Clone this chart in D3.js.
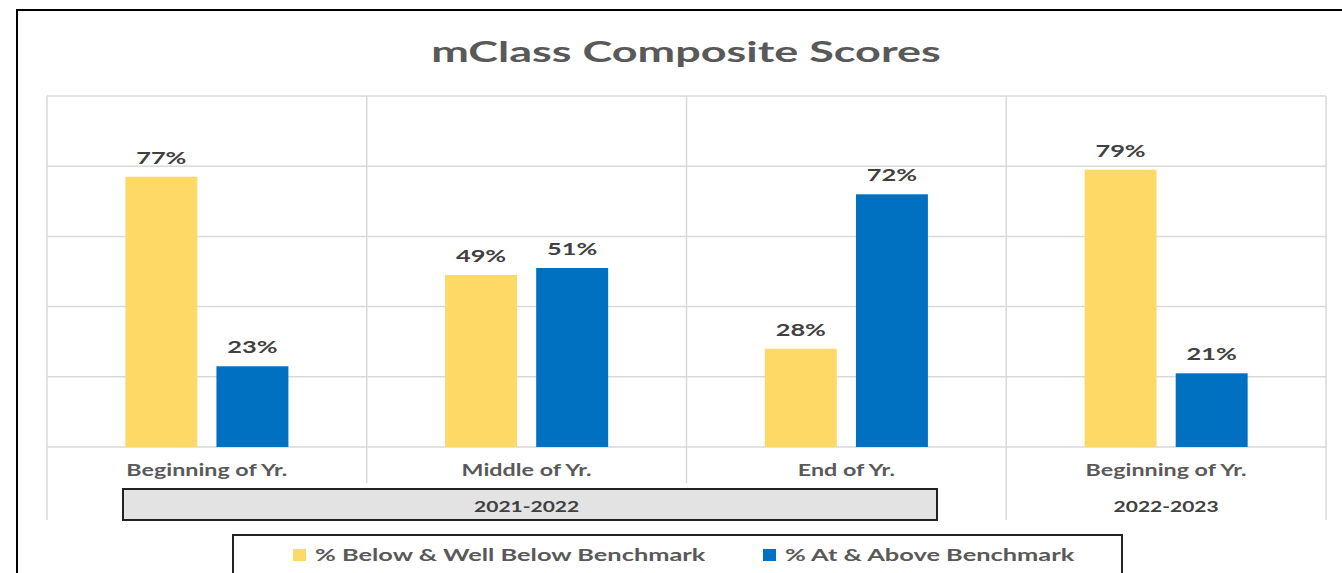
<!DOCTYPE html>
<html>
<head>
<meta charset="utf-8">
<script src="https://cdn.jsdelivr.net/npm/d3@7"></script>
<style>
  body { margin: 0; background: #fff; }
  text { font-family: Lato, "Open Sans", sans-serif; font-weight: bold; }
</style>
</head>
<body>
<script>
// data
var categories = ["Beginning of Yr.", "Middle of Yr.", "End of Yr.", "Beginning of Yr."];
var schoolYears = ["2021-2022", "2022-2023"];
var yearSpan = [[0, 2], [3, 3]];
var seriesNames = ["% Below & Well Below Benchmark", "% At & Above Benchmark"];
var belowValues = [77, 49, 28, 79];
var aboveValues = [23, 51, 72, 21];
var yTicks = [0, 20, 40, 60, 80, 100];

var width = 1342;
var height = 573;
var plotLeft = 47;
var plotRight = 1326;
var plotTop = 96;
var plotBottom = 447;
var colors = ["#FFD966", "#0070C0"];

var svg = d3.select("body").append("svg")
  .attr("width", width)
  .attr("height", height);

// the reference text is wide, so stretch each label horizontally
function stretch(sel, k) {
  sel.each(function() {
    var w = this.getComputedTextLength();
    d3.select(this)
      .attr("textLength", w * k)
      .attr("lengthAdjust", "spacingAndGlyphs");
  });
}

// outer frame
svg.append("path")
  .attr("d", "M17,573 L17,10 L1342,10")
  .attr("fill", "none")
  .attr("stroke", "#000")
  .attr("stroke-width", 2);

// title
svg.append("text")
  .attr("x", 686)
  .attr("y", 62)
  .attr("text-anchor", "middle")
  .attr("fill", "#595959")
  .style("font-size", "29px")
  .text("mClass Composite Scores")
  .call(stretch, 1.55);

var idx = d3.range(categories.length);

var x0 = d3.scaleBand()
  .domain(idx)
  .range([plotLeft, plotRight]);

var x1 = d3.scaleBand()
  .domain([0, 1])
  .range([0, x0.bandwidth()])
  .paddingInner(0.21)
  .paddingOuter(0.86);

var y = d3.scaleLinear()
  .domain([0, 100])
  .range([plotBottom, plotTop]);

// horizontal gridlines
svg.append("g")
  .selectAll("line")
  .data(yTicks)
  .enter()
    .append("line")
    .attr("x1", plotLeft)
    .attr("x2", plotRight)
    .attr("y1", d => y(d))
    .attr("y2", d => y(d))
    .attr("stroke", "#d9d9d9")
    .attr("stroke-width", 1.5);

// vertical separators between categories
var seps = d3.range(categories.length + 1);
svg.append("g")
  .selectAll("line")
  .data(seps)
  .enter()
    .append("line")
    .attr("x1", d => d < categories.length ? x0(d) : plotRight)
    .attr("x2", d => d < categories.length ? x0(d) : plotRight)
    .attr("y1", plotTop)
    .attr("y2", d => (d == 1 || d == 2) ? 483 : 520)
    .attr("stroke", "#d9d9d9")
    .attr("stroke-width", 1.5);

// bars
var rows = idx.map(i => ({ i: i, values: [belowValues[i], aboveValues[i]] }));

var groups = svg.append("g")
  .selectAll("g")
  .data(rows)
  .enter()
    .append("g")
    .attr("transform", d => "translate(" + x0(d.i) + ",0)");

groups.selectAll("rect")
  .data(d => d.values.map((v, s) => ({ s: s, v: v })))
  .enter()
    .append("rect")
    .attr("x", d => x1(d.s))
    .attr("y", d => y(d.v))
    .attr("width", x1.bandwidth())
    .attr("height", d => y(0) - y(d.v))
    .attr("fill", d => colors[d.s]);

groups.selectAll("text")
  .data(d => d.values.map((v, s) => ({ s: s, v: v })))
  .enter()
    .append("text")
    .attr("x", d => x1(d.s) + x1.bandwidth() / 2)
    .attr("y", d => y(d.v) - 13)
    .attr("text-anchor", "middle")
    .attr("fill", "#404040")
    .style("font-size", "17.5px")
    .text(d => d.v + "%")
    .call(stretch, 1.45);

// category labels
svg.append("g")
  .selectAll("text")
  .data(idx)
  .enter()
    .append("text")
    .attr("x", d => x0(d) + x0.bandwidth() / 2)
    .attr("y", 476)
    .attr("text-anchor", "middle")
    .attr("fill", "#595959")
    .style("font-size", "17.5px")
    .text(d => categories[d])
    .call(stretch, 1.33);

// school year row
svg.append("rect")
  .attr("x", 123)
  .attr("y", 489)
  .attr("width", 937 - 123)
  .attr("height", 31)
  .attr("fill", "#e3e3e3")
  .attr("stroke", "#222")
  .attr("stroke-width", 2);

svg.append("g")
  .selectAll("text")
  .data(schoolYears)
  .enter()
    .append("text")
    .attr("x", (d, i) => (x0(yearSpan[i][0]) + x0(yearSpan[i][1]) + x0.bandwidth()) / 2)
    .attr("y", 512)
    .attr("text-anchor", "middle")
    .attr("fill", "#404040")
    .style("font-size", "16px")
    .text(d => d)
    .call(stretch, 1.31);

// legend
var legend = svg.append("g");
legend.append("rect")
  .attr("x", 233)
  .attr("y", 535)
  .attr("width", 1122 - 233)
  .attr("height", 50)
  .attr("fill", "#fff")
  .attr("stroke", "#222")
  .attr("stroke-width", 2);

var legendX = [293, 763];
seriesNames.forEach(function(name, i) {
  legend.append("rect")
    .attr("x", legendX[i])
    .attr("y", 549)
    .attr("width", 13)
    .attr("height", 12)
    .attr("fill", colors[i]);
  legend.append("text")
    .attr("x", legendX[i] + 22)
    .attr("y", 561)
    .attr("fill", "#595959")
    .style("font-size", "17.5px")
    .text(name)
    .call(stretch, 1.45);
});
</script>
</body>
</html>
